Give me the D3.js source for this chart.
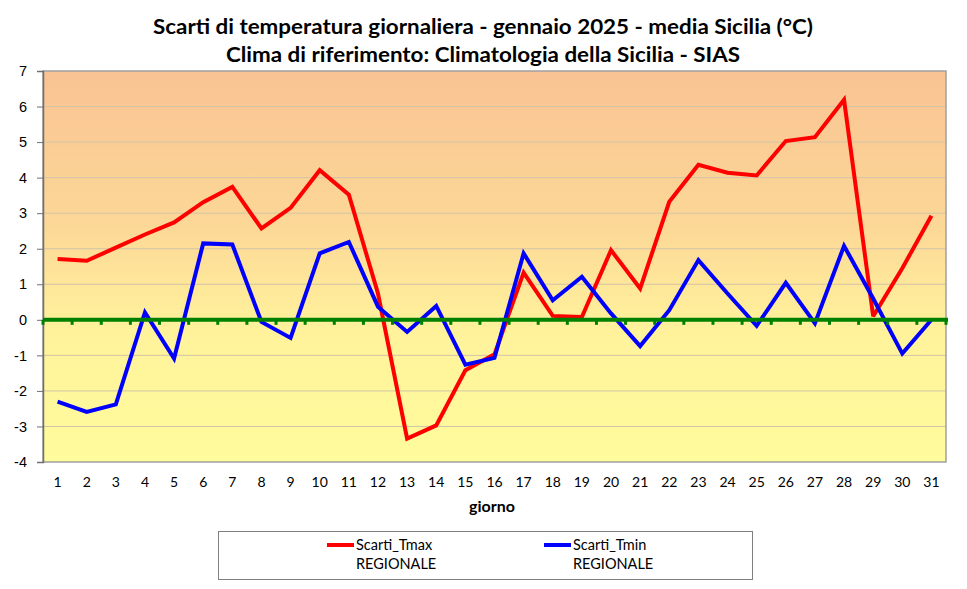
<!DOCTYPE html>
<html><head><meta charset="utf-8">
<script src="https://cdn.jsdelivr.net/npm/d3@7"></script>
<style>body{margin:0;background:#fff;}svg{display:block;}</style>
</head><body><div id="chart"></div>
<script>
const days = d3.range(1, 32);
const tmax = [1.71,1.66,2.03,2.40,2.74,3.31,3.74,2.57,3.15,4.21,3.52,0.74,-3.34,-2.97,-1.42,-0.97,1.33,0.11,0.08,1.96,0.88,3.32,4.36,4.14,4.06,5.03,5.14,6.19,0.10,1.45,2.93];
const tmin = [-2.30,-2.59,-2.38,0.21,-1.09,2.15,2.12,-0.06,-0.51,1.87,2.19,0.37,-0.34,0.39,-1.26,-1.07,1.87,0.55,1.21,0.18,-0.74,0.27,1.68,0.74,-0.17,1.04,-0.10,2.08,0.60,-0.95,0.00];
const yTicks = [-4,-3,-2,-1,0,1,2,3,4,5,6,7];
const titleLines = ["Scarti di temperatura giornaliera - gennaio 2025 - media Sicilia (°C)", "Clima di riferimento: Climatologia della Sicilia - SIAS"];
const seriesNames = [["Scarti_Tmax","REGIONALE"],["Scarti_Tmin","REGIONALE"]];
const colors = ["#FF0000","#0000FF"];

const W = 967, H = 589;
const m = {left:43, right:W-946, top:71, bottom:H-462};
const svg = d3.select("#chart").append("svg").attr("width",W).attr("height",H);

const x = d3.scaleBand().domain(days).range([m.left, W-m.right]);
const y = d3.scaleLinear().domain([-4,7]).range([H-m.bottom, m.top]);

const defs = svg.append("defs");
const g = defs.append("linearGradient").attr("id","bg").attr("x1",0).attr("y1",0).attr("x2",0).attr("y2",1);
g.append("stop").attr("offset","0%").attr("stop-color","#F9C393");
g.append("stop").attr("offset","40%").attr("stop-color","#FCD897");
g.append("stop").attr("offset","66%").attr("stop-color","#FFF29B");
g.append("stop").attr("offset","100%").attr("stop-color","#FFFC9C");

svg.append("rect").attr("x",m.left).attr("y",m.top).attr("width",W-m.left-m.right).attr("height",H-m.top-m.bottom).attr("fill","url(#bg)");

// gridlines
svg.append("g").selectAll("line").data(yTicks.filter(v=>v!==0 && v!==-4 && v!==7)).join("line")
  .attr("x1",m.left).attr("x2",W-m.right).attr("y1",d=>y(d)).attr("y2",d=>y(d))
  .attr("stroke","#D2C4A8").attr("stroke-width",1);

// plot border
svg.append("rect").attr("x",m.left).attr("y",m.top).attr("width",W-m.left-m.right).attr("height",H-m.top-m.bottom)
  .attr("fill","none").attr("stroke","#A0A0A0").attr("stroke-width",1.5);

// y axis
const yAxis = svg.append("g").attr("transform",`translate(${m.left},0)`)
  .call(d3.axisLeft(y).tickValues(yTicks).tickSize(6).tickPadding(10).tickFormat(d=>String(d)));
yAxis.select(".domain").attr("stroke","#707070").attr("stroke-width",1.5);
yAxis.selectAll(".tick line").attr("stroke","#707070");
yAxis.selectAll("text").attr("font-family","'Liberation Sans', Arial, sans-serif").attr("font-size",14.5).attr("fill","#000");

// x tick labels
svg.append("g").selectAll("text").data(days).join("text")
  .attr("x",d=>x(d)+x.bandwidth()/2).attr("y",487).attr("text-anchor","middle")
  .attr("font-family","Lato, sans-serif").attr("font-size",14).attr("fill","#000").text(d=>d);

// lines
const line = d3.line().x((d,i)=>x(days[i])+x.bandwidth()/2).y(d=>y(d));
[tmax,tmin].forEach((s,k)=>{
  svg.append("path").datum(s).attr("d",line).attr("fill","none").attr("stroke",colors[k]).attr("stroke-width",4).attr("stroke-linejoin","miter").attr("stroke-miterlimit",3);
});

// zero axis (green)
const y0 = y(0);
svg.append("line").attr("x1",m.left).attr("x2",W-m.right+2).attr("y1",y0).attr("y2",y0).attr("stroke","#008000").attr("stroke-width",4);
svg.append("g").selectAll("line").data(d3.range(0,32)).join("line")
  .attr("x1",i=>m.left + i*x.step()).attr("x2",i=>m.left + i*x.step())
  .attr("y1",y0).attr("y2",y0+5).attr("stroke","#008000").attr("stroke-width",3);

// title
const tl = [660, 514];
svg.append("g").selectAll("text").data(titleLines).join("text")
  .attr("x",483).attr("y",(d,i)=>34+i*28).attr("text-anchor","middle")
  .attr("textLength",(d,i)=>tl[i]).attr("lengthAdjust","spacingAndGlyphs")
  .attr("font-family","Lato, sans-serif").attr("font-weight","bold").attr("font-size",20).attr("fill","#000").text(d=>d);

// x axis title
svg.append("text").attr("x",492).attr("y",512).attr("text-anchor","middle")
  .attr("font-family","Lato, sans-serif").attr("font-weight","bold").attr("font-size",16).text("giorno");

// legend
svg.append("rect").attr("x",218.5).attr("y",531.5).attr("width",534).attr("height",48).attr("fill","#fff").attr("stroke","#808080").attr("stroke-width",1);
const lx = [327, 544];
seriesNames.forEach((nm,k)=>{
  svg.append("line").attr("x1",lx[k]).attr("x2",lx[k]+27).attr("y1",545).attr("y2",545).attr("stroke",colors[k]).attr("stroke-width",4);
  svg.append("text").attr("x",lx[k]+29).attr("y",550).attr("font-family","Lato, sans-serif").attr("font-size",14.5).text(nm[0]);
  svg.append("text").attr("x",lx[k]+29).attr("y",569).attr("font-family","Lato, sans-serif").attr("font-size",14.5).text(nm[1]);
});
</script></body></html>
